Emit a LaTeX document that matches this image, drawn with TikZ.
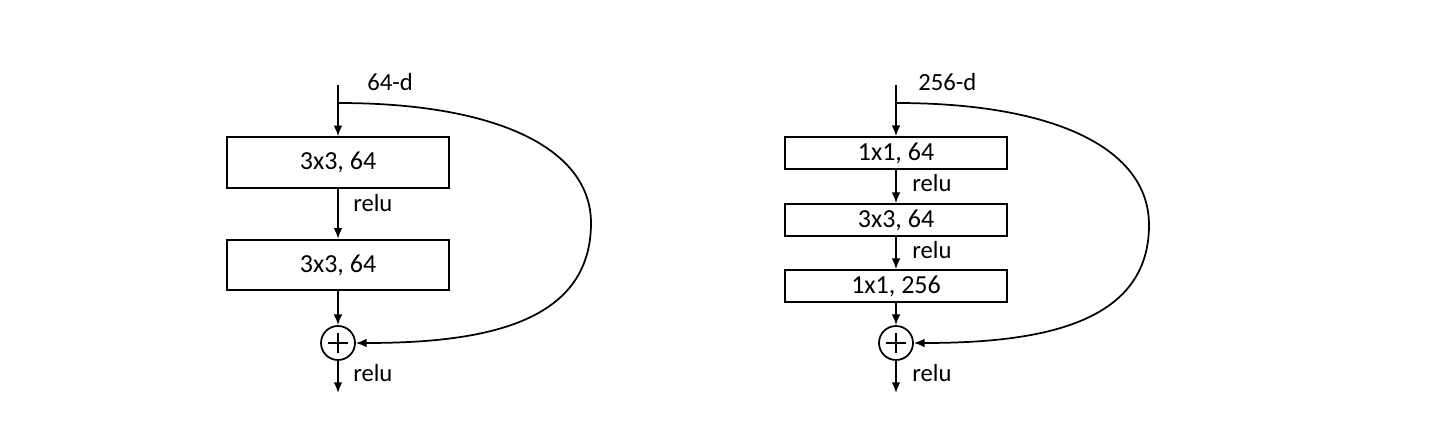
\documentclass[tikz,border=0pt]{standalone}
\usepackage{fontspec}
\setmainfont{Carlito}
\usetikzlibrary{arrows.meta}
\tikzset{
  x=0.75pt, y=-0.75pt,
  conv/.style={draw, line width=1.3pt, rectangle, minimum width=166.5pt, inner sep=0pt, font=\fontsize{19.5}{21}\selectfont},
  tall/.style={conv, minimum height=38pt},
  short/.style={conv, minimum height=24pt},
  lbl/.style={anchor=west, inner sep=0pt, font=\fontsize{18.5}{20}\selectfont},
  arr/.style={line width=1.3pt, -{Latex[length=8pt,width=6.5pt]}},
  sum/.style={draw, circle, line width=1.3pt, minimum size=25.5pt, inner sep=0pt},
  plusline/.style={line width=1.3pt}
}
\begin{document}
\begin{tikzpicture}
\useasboundingbox (0,0) rectangle (1430,438);
% ---------- left block ----------
\coordinate (ltop) at (338,85);
\coordinate (lbr) at (338,103);
\node[tall] (l1) at (338,162.5) {3x3, 64};
\node[tall] (l2) at (338,265) {3x3, 64};
\node[sum] (lsum) at (338,343) {};
\draw[plusline] ([xshift=-7.5pt]lsum.center) -- ([xshift=7.5pt]lsum.center);
\draw[plusline] ([yshift=-7.5pt]lsum.center) -- ([yshift=7.5pt]lsum.center);
\coordinate (lend) at (338,393);
\node[lbl] (ld) at (367,82) {64-d};
\node[lbl] (lr1) at (353,203) {relu};
\node[lbl] (lr2) at (353,373) {relu};
\draw[arr] (ltop) -- (l1.north);
\draw[arr] (l1.south) -- (l2.north);
\draw[arr] (l2.south) -- (lsum.north);
\draw[arr] (lsum.south) -- (lend);
\draw[arr] (lbr) .. controls (500,103) and (591,150) .. (591,223)
           .. controls (591,325) and (480,343) .. (lsum.east);
% ---------- right block ----------
\coordinate (rtop) at (896,85);
\coordinate (rbr) at (896,103);
\node[short] (r1) at (896,153) {1x1, 64};
\node[short] (r2) at (896,220) {3x3, 64};
\node[short] (r3) at (896,286) {1x1, 256};
\node[sum] (rsum) at (896,343) {};
\draw[plusline] ([xshift=-7.5pt]rsum.center) -- ([xshift=7.5pt]rsum.center);
\draw[plusline] ([yshift=-7.5pt]rsum.center) -- ([yshift=7.5pt]rsum.center);
\coordinate (rend) at (896,393);
\node[lbl] (rd) at (918,82) {256-d};
\node[lbl] (rr1) at (912,183) {relu};
\node[lbl] (rr2) at (912,250) {relu};
\node[lbl] (rr3) at (912,373) {relu};
\draw[arr] (rtop) -- (r1.north);
\draw[arr] (r1.south) -- (r2.north);
\draw[arr] (r2.south) -- (r3.north);
\draw[arr] (r3.south) -- (rsum.north);
\draw[arr] (rsum.south) -- (rend);
\draw[arr] (rbr) .. controls (1058,103) and (1149,150) .. (1149,225)
           .. controls (1149,325) and (1038,343) .. (rsum.east);
\end{tikzpicture}
\end{document}
